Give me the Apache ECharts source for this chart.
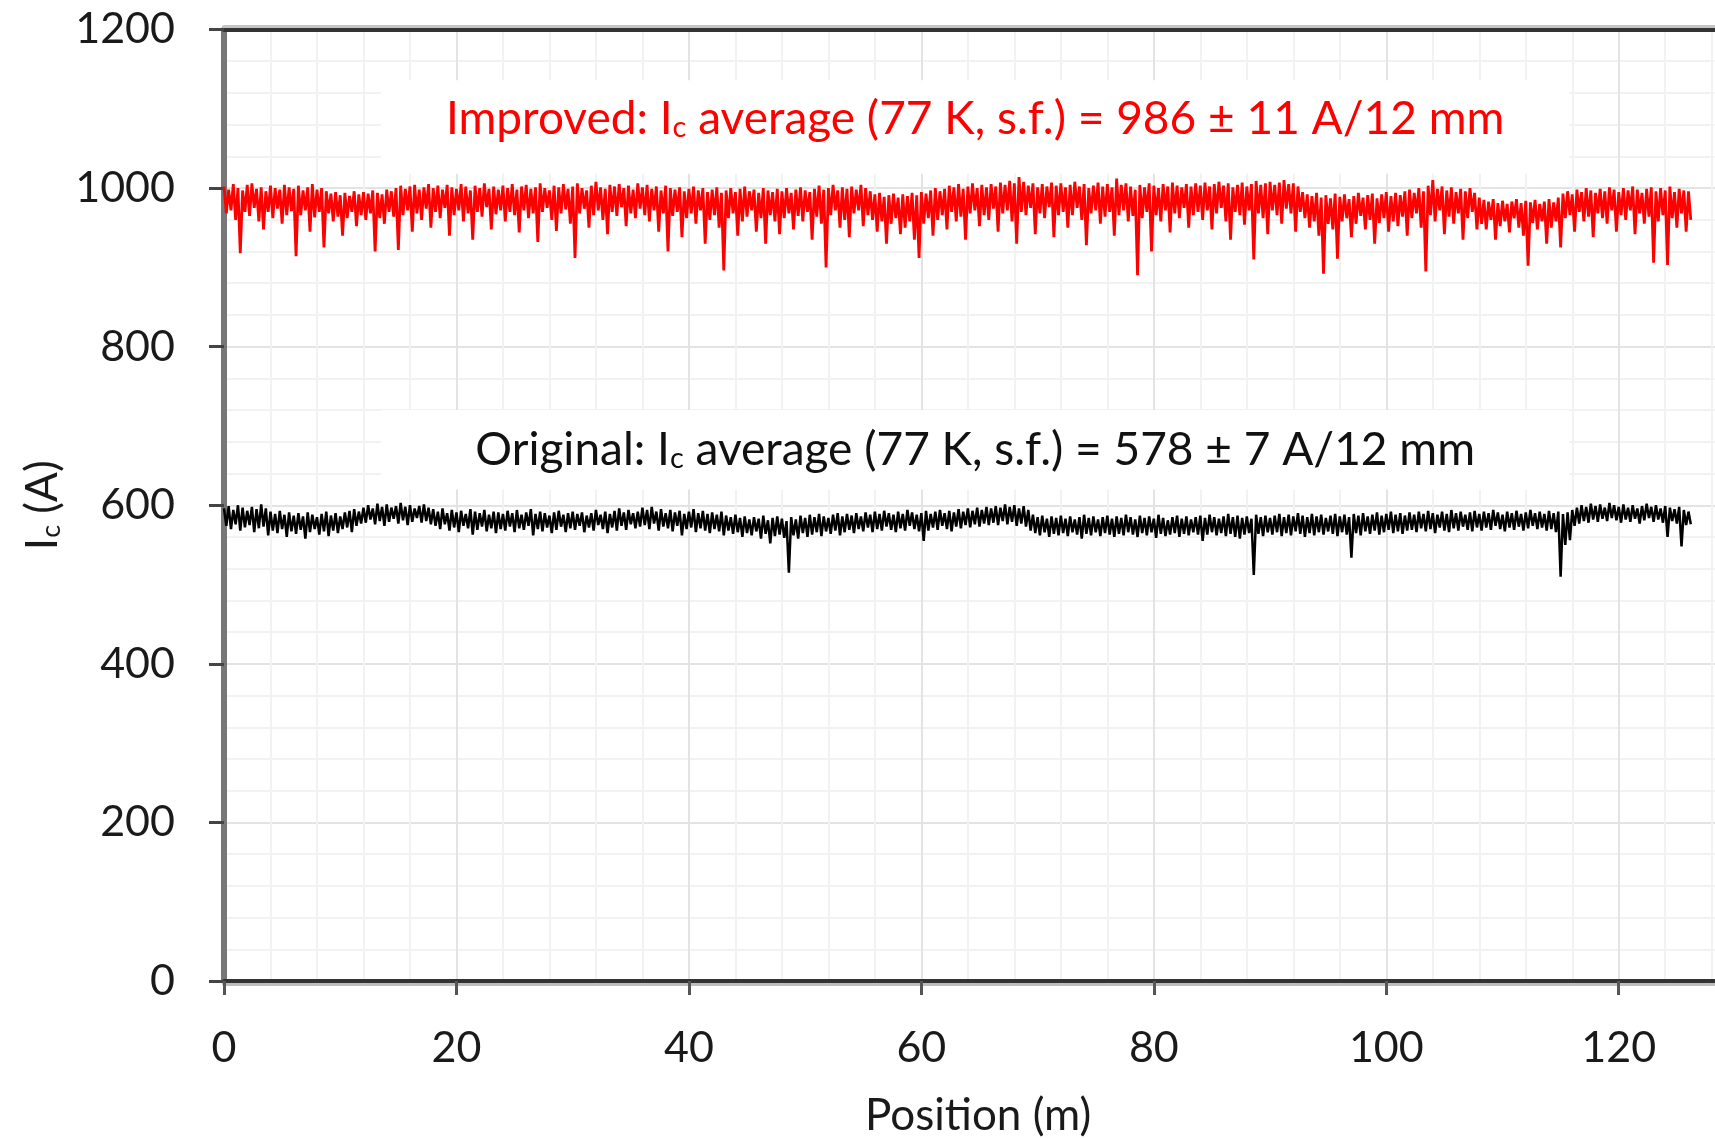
<!DOCTYPE html>
<html>
<head>
<meta charset="utf-8">
<script src="https://cdn.jsdelivr.net/npm/echarts@6/dist/echarts.min.js"></script>
<style>
html,body{margin:0;padding:0;background:#ffffff;}
#chart{width:1715px;height:1139px;}
</style>
</head>
<body>
<div id="chart"></div>
<script>
// ---------------- data ----------------
// The measured trace is very dense; it is read here as its local envelope:
// for every 0.4 m bin along the tape, the highest and the lowest Ic seen.
const BIN_M = 0.4;

// Improved tape — local maxima, Ic (A), 15 bins per 6 m row
const improvedTop = [
  1002, 998, 1005, 1000, 997, 1004, 1006, 999, 1001, 996, 1003, 1000, 998, 1004, 1001,
  999, 1003, 997, 1001, 1005, 998, 1000, 996, 993, 995, 991, 994, 990, 996, 992,
  995, 993, 997, 994, 992, 998, 996, 1000, 1003, 999, 1002, 1004, 998, 1001, 1005,
  1000, 1003, 998, 1004, 1001, 999, 1005, 1002, 997, 1003, 1000, 1006, 999, 1002, 998,
  1003, 1000, 1005, 998, 1002, 1004, 999, 1001, 1006, 1000, 997, 1003, 1001, 1005, 999,
  1002, 1006, 1000, 997, 1003, 1008, 1001, 999, 1004, 1002, 1005, 1000, 1003, 998, 1006,
  1001, 1004, 999, 1002, 997, 1003, 1000, 998, 1001, 996, 999, 1002, 997, 1000, 995,
  998, 1001, 994, 997, 1000, 995, 999, 1002, 996, 998, 994, 1000, 997, 995, 999,
  996, 1000, 994, 998, 1001, 997, 995, 999, 1003, 998, 1000, 1004, 997, 1001, 999,
  1002, 998, 1004, 1000, 996, 992, 994, 989, 991, 993, 988, 992, 990, 994, 991,
  995, 993, 997, 1000, 996, 999, 1003, 1001, 1005, 999, 1002, 1006, 1000, 1004, 1001,
  1005, 1002, 1007, 1004, 1009, 1006, 1014, 1008, 1003, 1006, 1001, 1005, 1002, 1007, 1003,
  1006, 1001, 1004, 1008, 1002, 1005, 1000, 1003, 1007, 1002, 1005, 1001, 1012, 1004, 1006,
  1002, 998, 1004, 1001, 1006, 1003, 1000, 1005, 1002, 1007, 1003, 1001, 1005, 1002, 1006,
  1003, 1007, 1002, 1005, 1008, 1003, 1006, 1001, 1004, 1007, 1002, 1005, 1009, 1004, 1006,
  1008, 1004, 1007, 1010, 1005, 1006, 1002, 995, 992, 990, 994, 988, 991, 987, 993,
  989, 992, 986, 990, 994, 988, 991, 993, 987, 992, 995, 990, 994, 991, 996,
  998, 994, 1000, 996, 1003, 1010, 999, 1002, 997, 1001, 995, 999, 996, 1000, 994,
  988, 985, 983, 986, 981, 984, 980, 983, 986, 981, 984, 982, 985, 980, 983,
  986, 982, 988, 993, 996, 992, 998, 995, 1000, 997, 994, 999, 996, 1001, 998,
  995, 1000, 997, 1002, 998, 994, 999, 1001, 996, 1000, 997, 1002, 995, 999, 997,
  996
];

// Improved tape — local minima, Ic (A)
const improvedBottom = [
  968, 972, 960, 918, 970, 965, 975, 958, 948, 970, 962, 974, 955, 966, 971,
  914, 966, 972, 945, 963, 970, 925, 968, 958, 964, 940, 962, 970, 952, 966,
  960, 968, 920, 962, 955, 970, 964, 922, 966, 972, 945, 968, 960, 974, 950,
  970, 962, 975, 940, 966, 972, 958, 968, 935, 970, 964, 976, 948, 967, 972,
  958, 970, 966, 944, 972, 962, 968, 932, 970, 975, 960, 946, 968, 973, 955,
  912, 968, 974, 950, 966, 972, 960, 942, 970, 965, 976, 952, 968, 962, 974,
  966, 958, 972, 945, 968, 920, 965, 970, 938, 962, 968, 955, 972, 930, 960,
  966, 950, 896, 962, 968, 940, 958, 964, 972, 945, 962, 930, 966, 958, 942,
  962, 968, 948, 965, 958, 970, 935, 964, 955, 900, 966, 972, 950, 960, 938,
  968, 972, 952, 966, 960, 945, 958, 930, 955, 962, 942, 950, 958, 935, 912,
  955, 962, 940, 960, 966, 948, 970, 958, 964, 935, 968, 972, 952, 966, 960,
  974, 945, 968, 972, 958, 930, 970, 966, 975, 942, 968, 962, 976, 938, 966,
  970, 950, 966, 975, 960, 928, 968, 972, 955, 964, 970, 940, 966, 972, 958,
  965, 890, 962, 970, 920, 966, 958, 972, 944, 968, 962, 975, 950, 966, 970,
  960, 972, 948, 968, 975, 958, 935, 970, 966, 954, 972, 910, 968, 962, 942,
  972, 966, 955, 974, 968, 945, 970, 962, 950, 958, 940, 892, 955, 948, 911,
  958, 962, 938, 955, 965, 948, 960, 930, 956, 962, 945, 958, 952, 964, 940,
  962, 968, 950, 895, 966, 958, 972, 942, 964, 955, 968, 935, 962, 970, 948,
  955, 948, 960, 935, 952, 958, 944, 962, 950, 940, 902, 956, 948, 958, 930,
  950, 958, 925, 962, 966, 945, 970, 958, 964, 938, 968, 962, 955, 972, 945,
  966, 960, 972, 942, 968, 955, 964, 906, 958, 966, 903, 962, 950, 968, 945,
  960
];

// Original tape — local maxima, Ic (A)
const originalTop = [
  596, 599, 594, 600, 597, 593, 598, 595, 601, 596, 592, 589, 593, 588, 591,
  587, 590, 586, 591, 588, 585, 589, 592, 587, 590, 586, 591, 593, 595, 592,
  597, 600, 596, 602, 598, 601, 597, 599, 603, 598, 600, 596, 599, 601, 597,
  595, 592, 596, 590, 594, 591, 593, 589, 595, 592, 590, 594, 588, 592, 591,
  589, 593, 590, 594, 588, 591, 595, 589, 592, 590, 587, 591, 593, 588, 590,
  592, 589, 591, 587, 590, 594, 588, 592, 589, 593, 596, 591, 594, 590, 592,
  597, 594, 598, 592, 595, 590, 594, 591, 593, 589, 592, 595, 590, 593, 589,
  591, 588, 592, 587, 585, 588, 584, 586, 582, 585, 583, 587, 581, 584, 586,
  583, 580, 585, 582, 587, 584, 588, 585, 589, 586, 584, 588, 590, 586, 589,
  587, 590, 586, 591, 588, 592, 589, 593, 590, 588, 592, 589, 594, 591, 588,
  590, 593, 589, 592, 594, 590, 593, 591, 595, 592, 596, 593, 597, 594, 598,
  596, 599, 597, 601, 598, 600, 596, 599, 594, 588, 585, 587, 583, 586, 584,
  587, 583, 586, 582, 585, 588, 584, 586, 582, 585, 587, 583, 586, 584, 588,
  585, 582, 587, 584, 586, 583, 588, 584, 581, 585, 587, 583, 586, 582, 585,
  587, 584, 588, 585, 583, 586, 589, 585, 587, 584, 586, 583, 588, 585, 587,
  584, 587, 589, 585, 588, 586, 590, 587, 585, 589, 586, 588, 584, 587, 589,
  586, 588, 585, 589, 587, 590, 586, 588, 591, 587, 589, 592, 588, 590, 587,
  591, 588, 592, 589, 593, 590, 588, 592, 589, 594, 590, 592, 588, 591, 593,
  589, 592, 590, 594, 591, 588, 592, 590, 593, 589, 591, 594, 590, 592, 589,
  593, 590, 592, 589, 591, 594, 597, 600, 598, 602, 599, 601, 597, 603, 600,
  598, 601, 597, 600, 596, 599, 602, 598, 600, 596, 599, 597, 595, 598, 594,
  592
];

// Original tape — local minima, Ic (A)
const originalBottom = [
  574, 570, 576, 568, 572, 575, 566, 571, 573, 562, 568, 565, 570, 560, 567,
  564, 569, 558, 566, 570, 563, 567, 561, 568, 565, 570, 572, 566, 574, 577,
  578, 582, 576, 580, 574, 579, 583, 577, 581, 575, 579, 584, 578, 580, 576,
  574, 570, 576, 568, 572, 566, 574, 571, 563, 569, 573, 567, 571, 565, 570,
  568, 573, 566, 571, 569, 574, 562, 570, 567, 572, 565, 569, 573, 566, 571,
  569, 574, 566, 572, 568, 575, 570, 565, 572, 568, 574, 569, 576, 571, 573,
  575, 570, 577, 568, 573, 571, 567, 574, 562, 570, 572, 566, 571, 568, 565,
  570, 567, 562, 568, 564, 566, 560, 565, 562, 567, 558, 564, 552, 561, 563,
  559, 515, 562, 558, 565, 560, 563, 566, 561, 567, 564, 568, 562, 566, 569,
  565, 570, 567, 572, 566, 570, 568, 573, 569, 566, 571, 568, 574, 570, 567,
  555, 568, 572, 569, 574, 570, 567, 573, 571, 575, 572, 576, 573, 577, 575,
  578, 575, 580, 576, 579, 574, 577, 573, 568, 565, 562, 566, 560, 564, 562,
  565, 561, 566, 563, 558, 564, 562, 566, 561, 565, 563, 560, 564, 562, 566,
  563, 560, 565, 562, 566, 559, 564, 561, 563, 565, 560, 564, 562, 566, 563,
  555, 563, 566, 562, 565, 561, 564, 560, 558, 563, 565, 512, 564, 561, 566,
  563, 566, 561, 565, 562, 567, 564, 560, 565, 562, 566, 563, 567, 564, 561,
  566, 563, 534, 565, 562, 567, 564, 568, 563, 566, 569, 565, 567, 564, 568,
  569, 566, 571, 567, 570, 565, 572, 568, 566, 571, 568, 573, 569, 567, 572,
  568, 572, 569, 574, 570, 567, 572, 569, 573, 568, 571, 574, 570, 572, 568,
  570, 566, 510, 550, 556, 574, 577, 580, 578, 582, 579, 583, 580, 584, 581,
  578, 582, 579, 583, 577, 581, 584, 579, 582, 578, 560, 580, 577, 548, 575,
  576
];

// Axis ticks
const xTickStep = 20;   // m
const yTickStep = 200;  // A
const yMax = 1200;

// Texts
const improvedText = '{n|Improved: I}{s|c}{n| average (77 K, s.f.) = 986 ± 11 A/12 mm}';
const originalText = '{n|Original: I}{s|c}{n| average (77 K, s.f.) = 578 ± 7 A/12 mm}';
const yTitle = '{n|I}{s|c}{n| (A)}';
const xTitle = 'Position (m)';

// ---------------- layout / style ----------------
const FONT = 'Lato, "Open Sans", sans-serif';
const improvedBox = { x: [13.5, 115.75], y: [1018, 1136] };
const originalBox = { x: [13.5, 115.75], y: [620, 720] };

// envelope -> trace: the max of each bin, then its min half a bin later
function envelope(top, bottom) {
  const out = [];
  for (let i = 0; i < top.length; i++) {
    const x0 = Math.round(i * BIN_M * 10) / 10;
    out.push([x0, top[i]]);
    out.push([Math.round((x0 + BIN_M / 2) * 10) / 10, bottom[i]]);
  }
  return out;
}

function rich(color, size) {
  return {
    n: { fontFamily: FONT, fontSize: size, lineHeight: size, color: color, verticalAlign: 'bottom' },
    s: { fontFamily: FONT, fontSize: Math.round(size * 0.62), lineHeight: 14, color: color, verticalAlign: 'bottom' }
  };
}

const majorGrid = { show: true, lineStyle: { color: '#e3e3e3', width: 2 } };
const minorGrid = { show: true, lineStyle: { color: '#f2f2f2', width: 2 } };

const chart = echarts.init(document.getElementById('chart'), null, { renderer: 'canvas' });
chart.setOption({
  animation: false,
  backgroundColor: '#ffffff',
  grid: { left: 224, top: 29.5, width: 1627.2, height: 951.5, containLabel: false, outerBoundsMode: 'none' },
  xAxis: [{
    type: 'value', min: 0, max: 140, interval: xTickStep, position: 'bottom',
    name: xTitle, nameLocation: 'middle', nameGap: 113,
    nameTextStyle: { fontFamily: FONT, fontSize: 44, color: '#1a1a1a', padding: [0, 119, 0, 0] },
    axisLine: { show: true, onZero: false, lineStyle: { color: '#333333', width: 4, shadowColor: '#bdbdbd', shadowOffsetY: 3 } },
    axisTick: { show: true, length: 14, lineStyle: { color: '#555555', width: 3 } },
    axisLabel: { margin: 46, fontFamily: FONT, fontSize: 43, color: '#1a1a1a', showMaxLabel: false },
    splitLine: majorGrid,
    minorTick: { show: false, splitNumber: 5 },
    minorSplitLine: minorGrid
  }, {
    type: 'value', min: 0, max: 140, interval: xTickStep, position: 'top',
    axisLine: { show: true, onZero: false, lineStyle: { color: '#333333', width: 4, shadowColor: '#c4c4c4', shadowOffsetY: -3 } },
    axisTick: { show: false }, axisLabel: { show: false }, splitLine: { show: false }
  }],
  yAxis: {
    type: 'value', min: 0, max: yMax, interval: yTickStep,
    name: yTitle, nameLocation: 'middle', nameRotate: 90, nameGap: 156,
    nameTextStyle: { fontFamily: FONT, fontSize: 44, color: '#1a1a1a', rich: rich('#1a1a1a', 44) },
    axisLine: { show: true, lineStyle: { color: '#777777', width: 6 } },
    axisTick: { show: true, length: 15, lineStyle: { color: '#444444', width: 3 } },
    axisLabel: { margin: 49, fontFamily: FONT, fontSize: 43, color: '#1a1a1a', formatter: function (v) { return String(v); } },
    splitLine: majorGrid,
    minorTick: { show: false, splitNumber: 5 },
    minorSplitLine: minorGrid
  },
  series: [{
    name: 'Original', type: 'line', data: envelope(originalTop, originalBottom),
    showSymbol: false, symbol: 'none', z: 3,
    lineStyle: { color: '#000000', width: 2.5 },
    markArea: {
      silent: true,
      itemStyle: { color: '#ffffff' },
      label: { show: true, position: 'inside', formatter: originalText, rich: rich('#111111', 46) },
      data: [[{ coord: [originalBox.x[0], originalBox.y[1]] }, { coord: [originalBox.x[1], originalBox.y[0]] }]]
    }
  }, {
    name: 'Improved', type: 'line', data: envelope(improvedTop, improvedBottom),
    showSymbol: false, symbol: 'none', z: 4,
    lineStyle: { color: '#ff0000', width: 2.8 },
    markArea: {
      silent: true,
      itemStyle: { color: '#ffffff' },
      label: { show: true, position: 'inside', offset: [0, -8], formatter: improvedText, rich: rich('#ff0000', 46) },
      data: [[{ coord: [improvedBox.x[0], improvedBox.y[1]] }, { coord: [improvedBox.x[1], improvedBox.y[0]] }]]
    }
  }]
});
</script>
</body>
</html>
